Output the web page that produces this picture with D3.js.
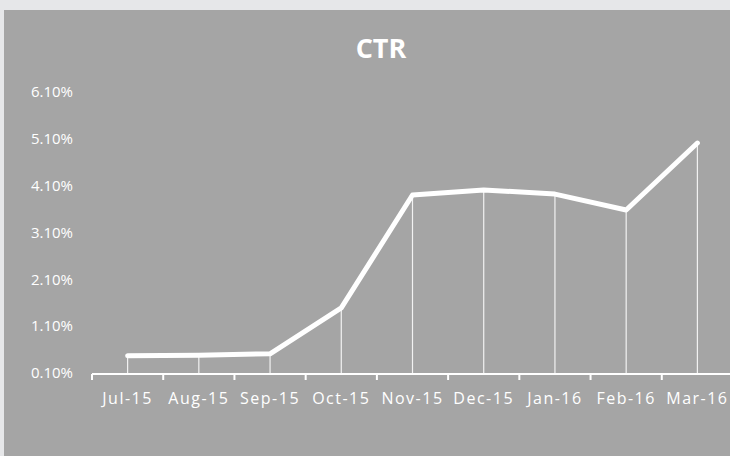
<!DOCTYPE html>
<html>
<head>
<meta charset="utf-8">
<script src="https://cdn.jsdelivr.net/npm/d3@7"></script>
<style>
  body { margin: 0; background: #e6e7e9; }
  svg { display: block; }
  text { font-family: "Open Sans", "Noto Sans", sans-serif; fill: #ffffff; }
</style>
</head>
<body>
<div id="vis"></div>
<script>
const WIDTH = 730;
const HEIGHT = 456;

// chart data
const months = ["Jul-15", "Aug-15", "Sep-15", "Oct-15", "Nov-15", "Dec-15", "Jan-16", "Feb-16", "Mar-16"];
const ctr = [0.47, 0.48, 0.51, 1.49, 3.90, 4.01, 3.92, 3.58, 5.01];
const yTicks = [0.1, 1.1, 2.1, 3.1, 4.1, 5.1, 6.1];

const margin = { top: 92, right: -3, bottom: 83, left: 92 };

const SVG = d3.select("#vis").append("svg").attr("width", WIDTH).attr("height", HEIGHT);

SVG.append("rect")
  .attr("x", 4).attr("y", 10)
  .attr("width", WIDTH - 4).attr("height", HEIGHT - 10)
  .attr("fill", "#a5a5a5");

SVG.append("text")
  .attr("x", 381).attr("y", 58)
  .attr("text-anchor", "middle")
  .attr("font-size", 27)
  .attr("font-weight", "bold")
  .text("CTR");

const h = HEIGHT - margin.top - margin.bottom;
const w = WIDTH - margin.left - margin.right;

const escalaX = d3.scaleBand().domain(months).range([0, w]);
const escalaY = d3.scaleLinear().domain([0.1, 6.1]).range([h, 0]);

const g = SVG.append("g").attr("transform", "translate(" + margin.left + "," + margin.top + ")");

// y labels, no axis line
const ejeY = d3.axisLeft(escalaY).tickValues(yTicks).tickSize(0).tickPadding(19)
  .tickFormat(d => d.toFixed(2) + "%");
const gy = g.append("g").call(ejeY);
gy.select(".domain").remove();
gy.selectAll("text").attr("font-size", 15).attr("fill", "#ffffff")
  .style("font-family", "'Open Sans', sans-serif");

// drop lines
g.append("g")
  .selectAll("line")
  .data(ctr)
  .join("line")
  .attr("x1", (d, i) => escalaX(months[i]) + escalaX.bandwidth() / 2)
  .attr("x2", (d, i) => escalaX(months[i]) + escalaX.bandwidth() / 2)
  .attr("y1", d => escalaY(d))
  .attr("y2", h)
  .attr("stroke", "#ffffff")
  .attr("stroke-opacity", 0.85)
  .attr("stroke-width", 1.2);

// x axis line with boundary ticks
const gx = g.append("g").attr("transform", "translate(0," + (h + 1) + ")");
gx.append("line")
  .attr("x1", 0).attr("x2", w)
  .attr("stroke", "#ffffff").attr("stroke-width", 2);
gx.selectAll(".tk")
  .data(months.map((m, i) => i).concat([months.length]))
  .join("line")
  .attr("class", "tk")
  .attr("x1", i => i * escalaX.step())
  .attr("x2", i => i * escalaX.step())
  .attr("y1", 0).attr("y2", 6)
  .attr("stroke", "#ffffff").attr("stroke-width", 2);
gx.selectAll(".lbl")
  .data(months)
  .join("text")
  .attr("class", "lbl")
  .attr("x", d => escalaX(d) + escalaX.bandwidth() / 2)
  .attr("y", 30)
  .attr("text-anchor", "middle")
  .attr("font-size", 16)
  .attr("letter-spacing", 1.5)
  .text(d => d);

// the line
const linea = d3.line()
  .x((d, i) => escalaX(months[i]) + escalaX.bandwidth() / 2)
  .y(d => escalaY(d));

g.append("path")
  .datum(ctr)
  .attr("d", linea)
  .attr("fill", "none")
  .attr("stroke", "#ffffff")
  .attr("stroke-width", 5)
  .attr("stroke-linejoin", "round")
  .attr("stroke-linecap", "round");
</script>
</body>
</html>
